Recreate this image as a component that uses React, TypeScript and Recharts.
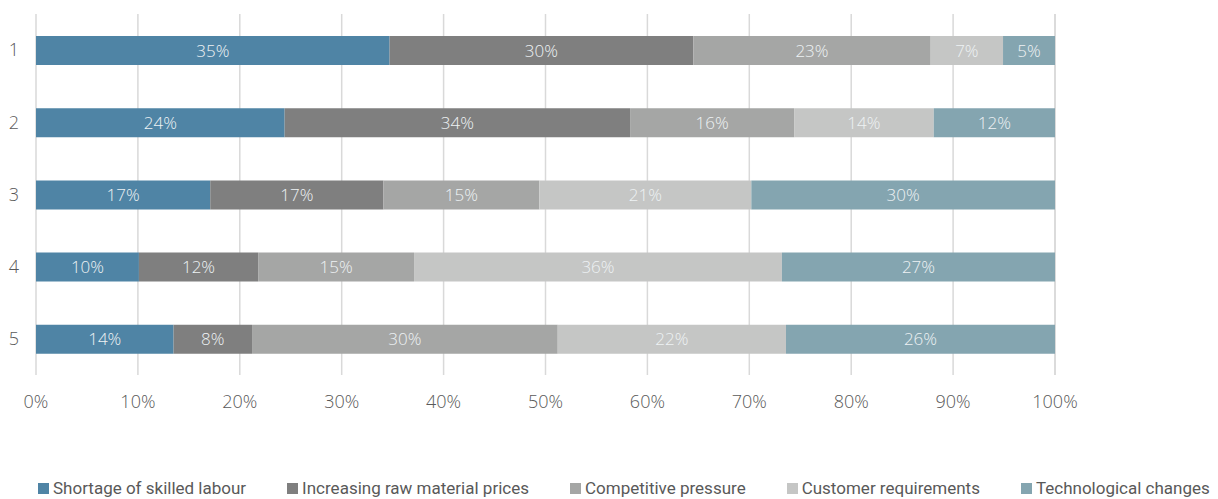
import React from 'react';
import { BarChart, Bar, XAxis, YAxis, CartesianGrid, LabelList, Legend } from 'recharts';

const categories = ['1', '2', '3', '4', '5'];
const seriesNames = [
  'Shortage of skilled labour',
  'Increasing raw material prices',
  'Competitive pressure',
  'Customer requirements',
  'Technological changes',
];
const shortage = [34.7, 24.4, 17.1, 10.1, 13.5];
const rawMaterial = [29.8, 33.9, 17.0, 11.7, 7.7];
const competitive = [23.3, 16.1, 15.3, 15.3, 30.0];
const customer = [7.1, 13.7, 20.8, 36.1, 22.4];
const technological = [5.1, 11.9, 29.8, 26.8, 26.4];
const xTicks = [0, 10, 20, 30, 40, 50, 60, 70, 80, 90, 100];

const keys = ['s0', 's1', 's2', 's3', 's4'];
const colors = ['#4F84A5', '#7F7F7F', '#A5A6A5', '#C5C6C5', '#84A5B0'];
const seriesValues = [shortage, rawMaterial, competitive, customer, technological];

const data = categories.map((c, i) => {
  const row: Record<string, any> = { name: c };
  keys.forEach((k, j) => {
    row[k] = seriesValues[j][i];
  });
  return row;
});

const FONT = '"Open Sans", Roboto, sans-serif';

const LegendContent = () => (
  <div style={{ display: 'flex', alignItems: 'center', gap: 41, paddingLeft: 38, height: 20, fontFamily: 'Roboto, sans-serif', fontSize: 17, color: '#595959', whiteSpace: 'nowrap' }}>
    {seriesNames.map((n, i) => (
      <div key={n} style={{ display: 'flex', alignItems: 'center' }}>
        <span style={{ display: 'inline-block', width: 11, height: 11, background: colors[i], marginRight: 4 }} />
        <span>{n}</span>
      </div>
    ))}
  </div>
);

export default function App() {
  return (
    <div style={{ margin: '-8px 0 0 -8px', width: 1218, height: 498, overflow: 'hidden' }}>
      <BarChart
        width={1218}
        height={498}
        data={data}
        layout="vertical"
        margin={{ top: 14, right: 163, bottom: 0, left: 0 }}
        barSize={29}
      >
        <CartesianGrid horizontal={false} stroke="#D9D9D9" strokeWidth={1.5} />
        <XAxis
          type="number"
          domain={[0, 100]}
          ticks={xTicks}
          tickFormatter={(v) => `${v}%`}
          axisLine={false}
          tickLine={false}
          tickMargin={14}
          height={103}
          tick={{ fill: '#595959', fontSize: 18, fontFamily: FONT, fontWeight: 300 }}
          interval={0}
        />
        <YAxis
          type="category"
          dataKey="name"
          axisLine={false}
          tickLine={false}
          width={36}
          tickMargin={11}
          tick={{ fill: '#595959', fontSize: 18, fontFamily: FONT, fontWeight: 300 }}
        />
        <Legend verticalAlign="bottom" content={<LegendContent />} wrapperStyle={{ height: 20 }} />
        {keys.map((k, j) => (
          <Bar key={k} dataKey={k} name={seriesNames[j]} stackId="a" fill={colors[j]} isAnimationActive={false}>
            <LabelList
              dataKey={k}
              position="center"
              formatter={(v: any) => `${Math.round(Number(v))}%`}
              fill="#EEF2F4"
              style={{ fontSize: 17, fontFamily: FONT, fontWeight: 300 }}
            />
          </Bar>
        ))}
      </BarChart>
    </div>
  );
}
